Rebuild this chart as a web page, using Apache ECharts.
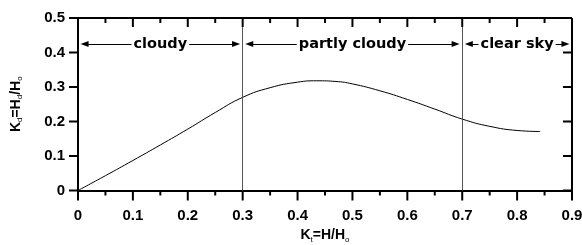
<!DOCTYPE html>
<html>
<head>
<meta charset="utf-8">
<script src="https://cdn.jsdelivr.net/npm/echarts@6/dist/echarts.min.js"></script>
<style>html,body{margin:0;padding:0;background:#fff;}#c{width:582px;height:245px;}</style>
</head>
<body>
<div id="c"></div>
<script>
// Data
const kt = [0, 0.05, 0.1, 0.15, 0.2, 0.25, 0.3, 0.35, 0.4, 0.435, 0.47, 0.5, 0.55, 0.6, 0.65, 0.7, 0.75, 0.8, 0.842];
const kd = [0, 0.043, 0.087, 0.132, 0.178, 0.226, 0.27, 0.298, 0.314, 0.318, 0.316, 0.309, 0.289, 0.264, 0.236, 0.207, 0.186, 0.174, 0.171];
const boundaries = [0.3, 0.7];
const regionNames = ['cloudy', 'partly cloudy', 'clear sky'];
const regionFrom = [0, 0.3, 0.7];
const regionTo = [0.3, 0.7, 0.9];
const regionLevel = 0.425;
const xMajorTicks = [0, 0.1, 0.2, 0.3, 0.4, 0.5, 0.6, 0.7, 0.8, 0.9];
const xMinorTicks = [0.05, 0.15, 0.25, 0.35, 0.45, 0.55, 0.65, 0.75, 0.85];
const yTicks = [0, 0.1, 0.2, 0.3, 0.4, 0.5];
const X_MIN = 0, X_MAX = 0.9, Y_MIN = 0, Y_MAX = 0.5;
const inset = 0.012;

const chart = echarts.init(document.getElementById('c'));
const tickFont = () => ({fontFamily: 'Liberation Sans', fontWeight: 'bold', fontSize: 15, color: '#000'});
const fmt = v => (v === 0 ? '0' : String(Math.round(v * 10) / 10));
const nameRich = () => ({
  k: {fontFamily: 'Liberation Sans', fontWeight: 'bold', fontSize: 14, color: '#000', lineHeight: 16},
  s: {fontFamily: 'Liberation Sans', fontSize: 8, color: '#000', verticalAlign: 'bottom', lineHeight: 12}
});

const arrowData = regionNames.map((n, i) => [
  {coord: [regionFrom[i] + inset, regionLevel], name: n},
  {coord: [regionTo[i] - inset, regionLevel]}
]);
const vData = boundaries.map(b => ({xAxis: b}));

// tick/frame items: [value, kind] kind 0 = x major, 1 = x minor, 2 = y tick, 3 = frame
const tickItems = []
  .concat(xMajorTicks.map(v => [v, 0]))
  .concat(xMinorTicks.map(v => [v, 1]))
  .concat(yTicks.map(v => [v, 2]))
  .concat([[X_MIN, 3]]);

const tickStroke = {stroke: '#000', lineWidth: 2};
function seg(x1, y1, x2, y2) {
  return {type: 'line', shape: {x1: x1, y1: y1, x2: x2, y2: y2}, style: tickStroke, silent: true};
}
function renderTicks(params, api) {
  const v = api.value(0), kind = api.value(1);
  const children = [];
  if (kind === 0 || kind === 1) {
    const len = kind === 0 ? 10 : 5;
    const b = api.coord([v, Y_MIN]);
    const t = api.coord([v, Y_MAX]);
    children.push(seg(b[0], b[1], b[0], b[1] + len));
    children.push(seg(t[0], t[1], t[0], t[1] + (kind === 0 ? 9 : 5)));
  } else if (kind === 2) {
    const l = api.coord([X_MIN, v]);
    const r = api.coord([X_MAX, v]);
    children.push(seg(l[0] - 9, l[1], l[0], l[1]));
    children.push(seg(r[0] - 9, r[1], r[0], r[1]));
  } else {
    const tl = api.coord([X_MIN, Y_MAX]);
    const tr = api.coord([X_MAX, Y_MAX]);
    const br = api.coord([X_MAX, Y_MIN]);
    children.push(seg(tl[0], tl[1], tr[0], tr[1]));
    children.push(seg(tr[0], tr[1], br[0], br[1]));
  }
  return {type: 'group', children: children};
}

chart.setOption({
  animation: false,
  grid: {left: 78, right: 10, top: 18, bottom: 54.5, outerBoundsMode: 'none'},
  xAxis: {
    type: 'value', min: X_MIN, max: X_MAX, interval: 0.1, position: 'bottom',
    axisLine: {show: true, onZero: false, lineStyle: {color: '#000', width: 2}},
    axisTick: {show: false},
    splitLine: {show: false},
    axisLabel: Object.assign({margin: 18, formatter: fmt}, tickFont()),
    name: '{k|K}{s|t}{k|=H/H}{s|o}',
    nameLocation: 'middle', nameGap: 37,
    nameTextStyle: {rich: nameRich()}
  },
  yAxis: {
    type: 'value', min: Y_MIN, max: Y_MAX, interval: 0.1, position: 'left',
    axisLine: {show: true, onZero: false, lineStyle: {color: '#000', width: 2}},
    axisTick: {show: false},
    splitLine: {show: false},
    axisLabel: Object.assign({margin: 13, formatter: fmt}, tickFont()),
    name: '{k|K}{s|d}{k|=H}{s|d}{k|/H}{s|o}',
    nameLocation: 'middle', nameGap: 54, nameRotate: 90,
    nameTextStyle: {rich: nameRich()}
  },
  series: [{
    type: 'line',
    data: kt.map((x, i) => [x, kd[i]]),
    smooth: true,
    showSymbol: false,
    lineStyle: {color: '#000', width: 1},
    markLine: {
      silent: true,
      symbol: 'none',
      lineStyle: {color: '#555', width: 1, type: 'solid'},
      label: {show: false},
      data: vData
    }
  }, {
    type: 'line',
    data: [],
    markLine: {
      silent: true,
      symbol: ['triangle', 'triangle'],
      symbolSize: [6, 8],
      lineStyle: {color: '#000', width: 1, type: 'solid'},
      label: {
        show: true, position: 'middle', formatter: '{b}', verticalAlign: 'middle',
        fontFamily: 'DejaVu Sans', fontWeight: 'bold', fontSize: 14.5, color: '#000',
        backgroundColor: '#fff', padding: [0, 2], distance: 0
      },
      data: arrowData
    }
  }, {
    type: 'custom',
    coordinateSystem: 'cartesian2d',
    silent: true,
    clip: false,
    z: 5,
    encode: {x: 0, y: -1},
    renderItem: renderTicks,
    data: tickItems
  }]
});
</script>
</body>
</html>
